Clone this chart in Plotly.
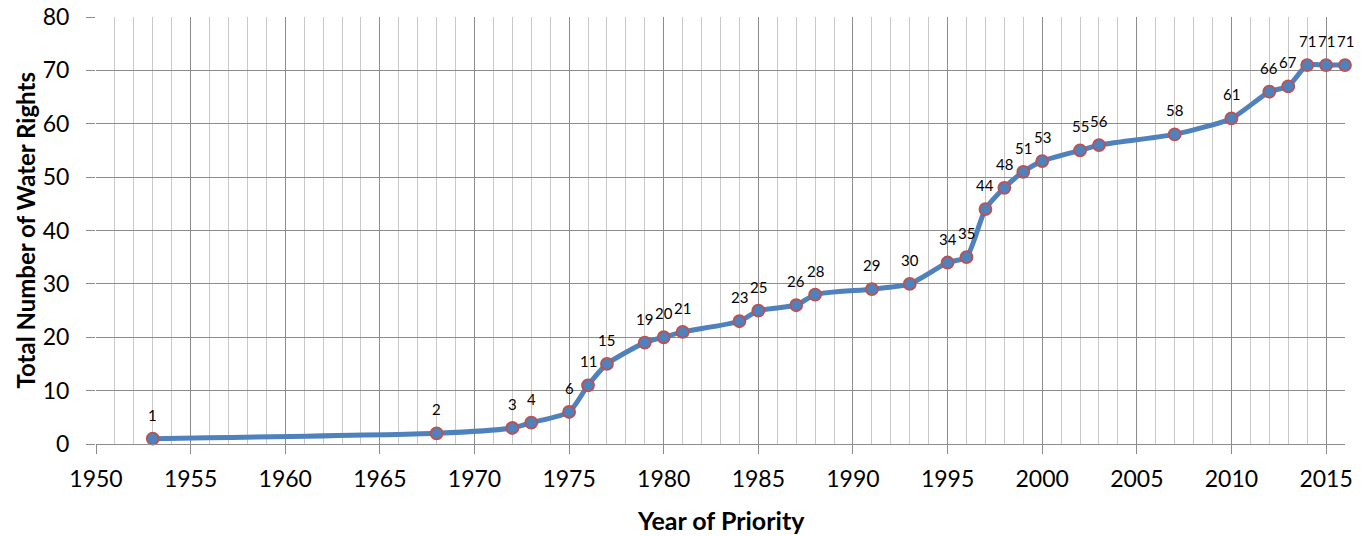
import plotly.graph_objects as go

years = [1953, 1968, 1972, 1973, 1975, 1976, 1977, 1979, 1980, 1981, 1984, 1985, 1987, 1988,
         1991, 1993, 1995, 1996, 1997, 1998, 1999, 2000, 2002, 2003, 2007, 2010, 2012, 2013,
         2014, 2015, 2016]
totals = [1, 2, 3, 4, 6, 11, 15, 19, 20, 21, 23, 25, 26, 28,
          29, 30, 34, 35, 44, 48, 51, 53, 55, 56, 58, 61, 66, 67,
          71, 71, 71]
x_ticks = [1950, 1955, 1960, 1965, 1970, 1975, 1980, 1985, 1990, 1995, 2000, 2005, 2010, 2015]
y_ticks = [0, 10, 20, 30, 40, 50, 60, 70, 80]
x_title = "Year of Priority"
y_title = "Total Number of Water Rights"

FONT = "Lato, 'Open Sans', sans-serif"

fig = go.Figure()
fig.add_trace(go.Scatter(
    x=years, y=totals,
    mode="lines+markers",
    line=dict(color="#4F81BD", width=5, shape="spline", smoothing=0.6),
    marker=dict(size=12, color="#4F81BD", line=dict(color="#C0504D", width=1.8)),
    cliponaxis=False,
    showlegend=False,
    hoverinfo="x+y",
))

annotations = []
for xv, yv in zip(years, totals):
    annotations.append(dict(
        x=xv, y=yv, xref="x", yref="y", text=str(yv), showarrow=False,
        xanchor="center", yanchor="middle", yshift=24,
        font=dict(family=FONT, size=15, color="#000"),
    ))
annotations.append(dict(
    x=0.5, y=0, xref="paper", yref="paper", text="<b>%s</b>" % x_title, showarrow=False,
    xanchor="center", yanchor="middle", yshift=-76,
    font=dict(family=FONT, size=25, color="#000"),
))
annotations.append(dict(
    x=0, y=0.5, xref="paper", yref="paper", text="<b>%s</b>" % y_title, showarrow=False,
    xanchor="center", yanchor="middle", xshift=-71, textangle=-90,
    font=dict(family=FONT, size=24, color="#000"),
))

fig.update_layout(
    width=1366, height=536,
    margin=dict(l=96, r=21, t=17, b=92),
    paper_bgcolor="white", plot_bgcolor="white",
    font=dict(family=FONT, color="#000"),
    annotations=annotations,
    xaxis=dict(
        range=[1950, 2016], tickvals=x_ticks, ticktext=[str(t) for t in x_ticks],
        tickfont=dict(size=23), ticks="outside", ticklen=9, tickcolor="#8C8C8C",
        ticklabelstandoff=5,
        showgrid=True, gridcolor="#8C8C8C", gridwidth=1.3,
        minor=dict(dtick=1, tick0=1950, showgrid=True, gridcolor="#C8C8C8", gridwidth=1.3),
        showline=True, linecolor="#8C8C8C", linewidth=1.3, mirror=False,
        zeroline=False, automargin=False,
    ),
    yaxis=dict(
        range=[0, 80], tickvals=y_ticks, tickfont=dict(size=23),
        ticks="outside", ticklen=9, tickcolor="#8C8C8C",
        ticklabelstandoff=12,
        showgrid=True, gridcolor="#8C8C8C", gridwidth=1.3,
        showline=False, zeroline=False, automargin=False,
    ),
)

fig.write_html("out.html",
               config={"displayModeBar": False},
               post_script="document.body.style.margin='0';document.body.style.overflow='hidden';")
